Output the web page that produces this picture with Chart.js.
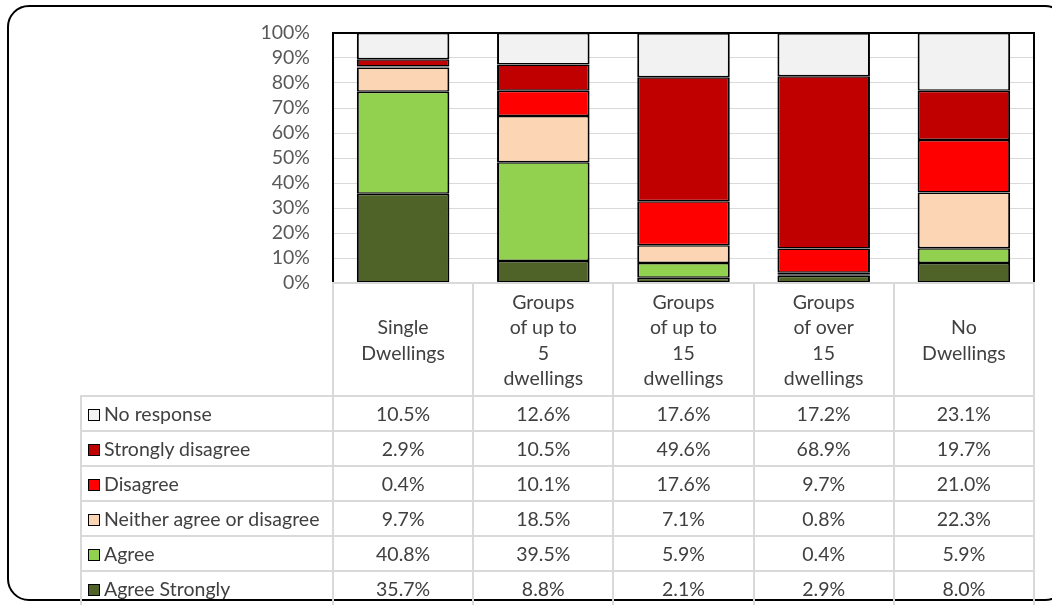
<!DOCTYPE html>
<html>
<head>
<meta charset="utf-8">
<script src="https://cdn.jsdelivr.net/npm/chart.js@4/dist/chart.umd.min.js"></script>
<style>
body { margin: 0; background: #fff; }
#wrap { position: relative; width: 1052px; height: 605px; overflow: hidden; font-family: Lato, "Open Sans", sans-serif; }
#frame { position: absolute; left: 7px; top: 5px; width: 1060px; height: 596px; border: 2px solid #000; border-radius: 22px; box-sizing: border-box; }
#myChart { position: absolute; left: 0; top: 0; }
#dataTable { position: absolute; border-collapse: collapse; table-layout: fixed; color: #404040; font-size: 19.5px; }
#dataTable td { border: 2px solid #d9d9d9; padding: 0; text-align: center; white-space: nowrap; overflow: hidden; }
#dataTable td.blank { border: none; }
#dataTable td.head { line-height: 25.5px; vertical-align: middle; }
#dataTable td.name { text-align: left; padding-left: 6px; }
.key { display: inline-block; width: 10px; height: 10px; border: 1.5px solid #000; margin-right: 4px; vertical-align: 0px; }
</style>
</head>
<body>
<div id="wrap">
	<div id="frame"></div>
	<canvas id="myChart" width="1052" height="605"></canvas>
	<table id="dataTable"></table>
</div>
<script>
// categories, one entry per bar (lines as shown in the table header)
var categories = [
	["Single", "Dwellings"],
	["Groups", "of up to", "5", "dwellings"],
	["Groups", "of up to", "15", "dwellings"],
	["Groups", "of over", "15", "dwellings"],
	["No", "Dwellings"]
];

// series values in % (top of stack first, same order as the table rows)
var noResponse       = [10.5, 12.6, 17.6, 17.2, 23.1];
var stronglyDisagree = [2.9, 10.5, 49.6, 68.9, 19.7];
var disagree         = [0.4, 10.1, 17.6, 9.7, 21.0];
var neitherAgree     = [9.7, 18.5, 7.1, 0.8, 22.3];
var agree            = [40.8, 39.5, 5.9, 0.4, 5.9];
var agreeStrongly    = [35.7, 8.8, 2.1, 2.9, 8.0];

var seriesNames  = ["No response", "Strongly disagree", "Disagree", "Neither agree or disagree", "Agree", "Agree Strongly"];
var seriesValues = [noResponse, stronglyDisagree, disagree, neitherAgree, agree, agreeStrongly];
var seriesColors = ["#f2f2f2", "#c00000", "#ff0000", "#fcd5b5", "#92d050", "#4f6228"];

// y axis ticks
var yMin = 0;
var yMax = 100;
var yStep = 10;

var myChart;

function buildDatasets() {
	var datasets = [];
	// stack from bottom up, so go through the series backwards
	for(var i = seriesNames.length - 1; i >= 0; i--) {
		datasets.push({
			label: seriesNames[i],
			data: seriesValues[i],
			backgroundColor: seriesColors[i],
			borderColor: "#000",
			borderWidth: {left: 2, right: 2, top: 1.5, bottom: 1.5},
			borderSkipped: false,
			barPercentage: 0.66,
			categoryPercentage: 1
		});
	}
	return datasets;
}

// black frame on top, left and right of the plot area
var plotFrame = {
	id: "plotFrame",
	afterDatasetsDraw: function(chart) {
		var a = chart.chartArea;
		var ctx = chart.ctx;
		ctx.save();
		ctx.strokeStyle = "#000";
		ctx.lineWidth = 2;
		ctx.beginPath();
		ctx.moveTo(a.left, a.bottom);
		ctx.lineTo(a.left, a.top);
		ctx.lineTo(a.right, a.top);
		ctx.lineTo(a.right, a.bottom);
		ctx.stroke();
		ctx.restore();
	}
};

function displayChart() {
	var config = {
		type: "bar",
		data: {
			labels: categories.map(function(c) { return c.join(" "); }),
			datasets: buildDatasets()
		},
		options: {
			responsive: false,
			animation: false,
			layout: { padding: { left: 0, top: 33, right: 18, bottom: 322 } },
			plugins: { legend: { display: false }, tooltip: { enabled: false } },
			scales: {
				x: { stacked: true, display: false },
				y: {
					stacked: true,
					min: yMin,
					max: yMax,
					afterFit: function(scale) { scale.width = 333; },
					ticks: {
						stepSize: yStep,
						autoSkip: false,
						padding: 23,
						color: "#595959",
						font: { family: "Lato", size: 19.5, lineHeight: 1 },
						callback: function(v) { return v + "%"; }
					},
					grid: { color: "#d9d9d9", lineWidth: 1, drawTicks: false },
					border: { display: false }
				}
			}
		},
		plugins: [plotFrame]
	};

	myChart = new Chart(document.getElementById("myChart"), config);
}

function initTable() {
	var a = myChart.chartArea;
	var tableLeft = 81;
	var colW = (a.right - a.left) / categories.length;
	var tbl = document.getElementById("dataTable");
	tbl.style.left = (tableLeft - 1) + "px";
	tbl.style.top = (a.bottom - 1) + "px";
	tbl.style.width = (a.right - tableLeft + 2) + "px";

	var html = "<colgroup><col style='width:" + (a.left - tableLeft) + "px'>";
	for(var i = 0; i < categories.length; i++) {
		html += "<col style='width:" + colW + "px'>";
	}
	html += "</colgroup>";

	html += "<tr style='height:113px'><td class='blank'></td>";
	for(var i = 0; i < categories.length; i++) {
		html += "<td class='head'>" + categories[i].join("<br>") + "</td>";
	}
	html += "</tr>";

	for(var s = 0; s < seriesNames.length; s++) {
		html += "<tr style='height:35px'><td class='name'><span class='key' style='background:" + seriesColors[s] + "'></span>" + seriesNames[s] + "</td>";
		for(var i = 0; i < categories.length; i++) {
			html += "<td>" + seriesValues[s][i].toFixed(1) + "%</td>";
		}
		html += "</tr>";
	}
	tbl.innerHTML = html;
}

displayChart();
initTable();
</script>
</body>
</html>
